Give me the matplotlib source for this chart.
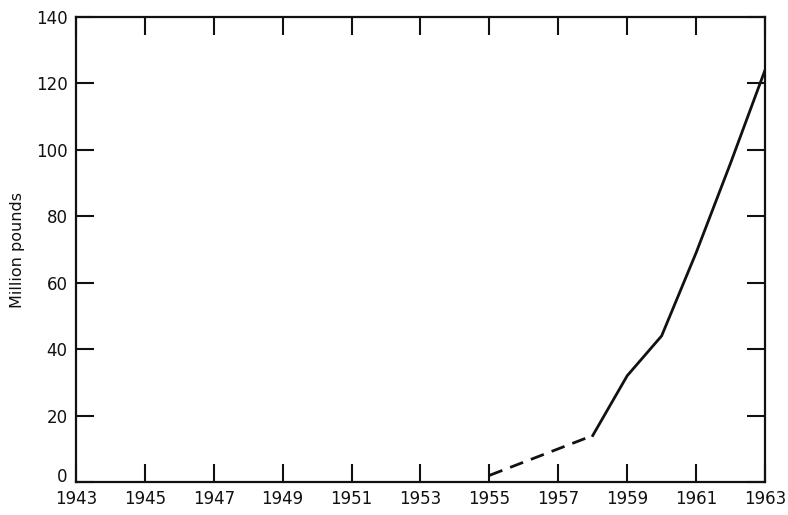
import matplotlib.pyplot as plt

# estimated (dashed) early years and reported later years
years_est = [1955, 1958]
pounds_est = [2, 14]
years = [1958, 1959, 1960, 1961, 1962, 1963]
pounds = [14, 32, 44, 69, 96, 124]

x_ticks = list(range(1943, 1964, 2))
y_ticks = list(range(0, 141, 20))


def plotar():
    fig = plt.figure(figsize=(7.88, 5.15), dpi=100)
    ax = fig.add_axes([0.0964, 0.064, 0.8744, 0.903])

    ax.plot(years_est, pounds_est, color='#111111', lw=2, ls=(0, (5, 3)))
    ax.plot(years, pounds, color='#111111', lw=2)

    ax.set_xlim(1943, 1963)
    ax.set_ylim(0, 140)
    ax.set_xticks(x_ticks)
    ax.set_yticks(y_ticks)
    ax.tick_params(direction='in', length=13, width=1.5, labelsize=12,
                   colors='#111111', top=True, right=True)
    ax.tick_params(axis='x', pad=6)
    ax.tick_params(axis='y', pad=6)
    for s in ax.spines.values():
        s.set_linewidth(1.6)
        s.set_color('#111111')
    # sit the zero label on the axis line so it clears the year below
    ax.get_yticklabels()[0].set_verticalalignment('baseline')

    ax.set_ylabel('Million pounds', fontsize=11.5, color='#111111', labelpad=8)
    fig.savefig('out.png', dpi=100)


if __name__ == '__main__':
    plotar()
